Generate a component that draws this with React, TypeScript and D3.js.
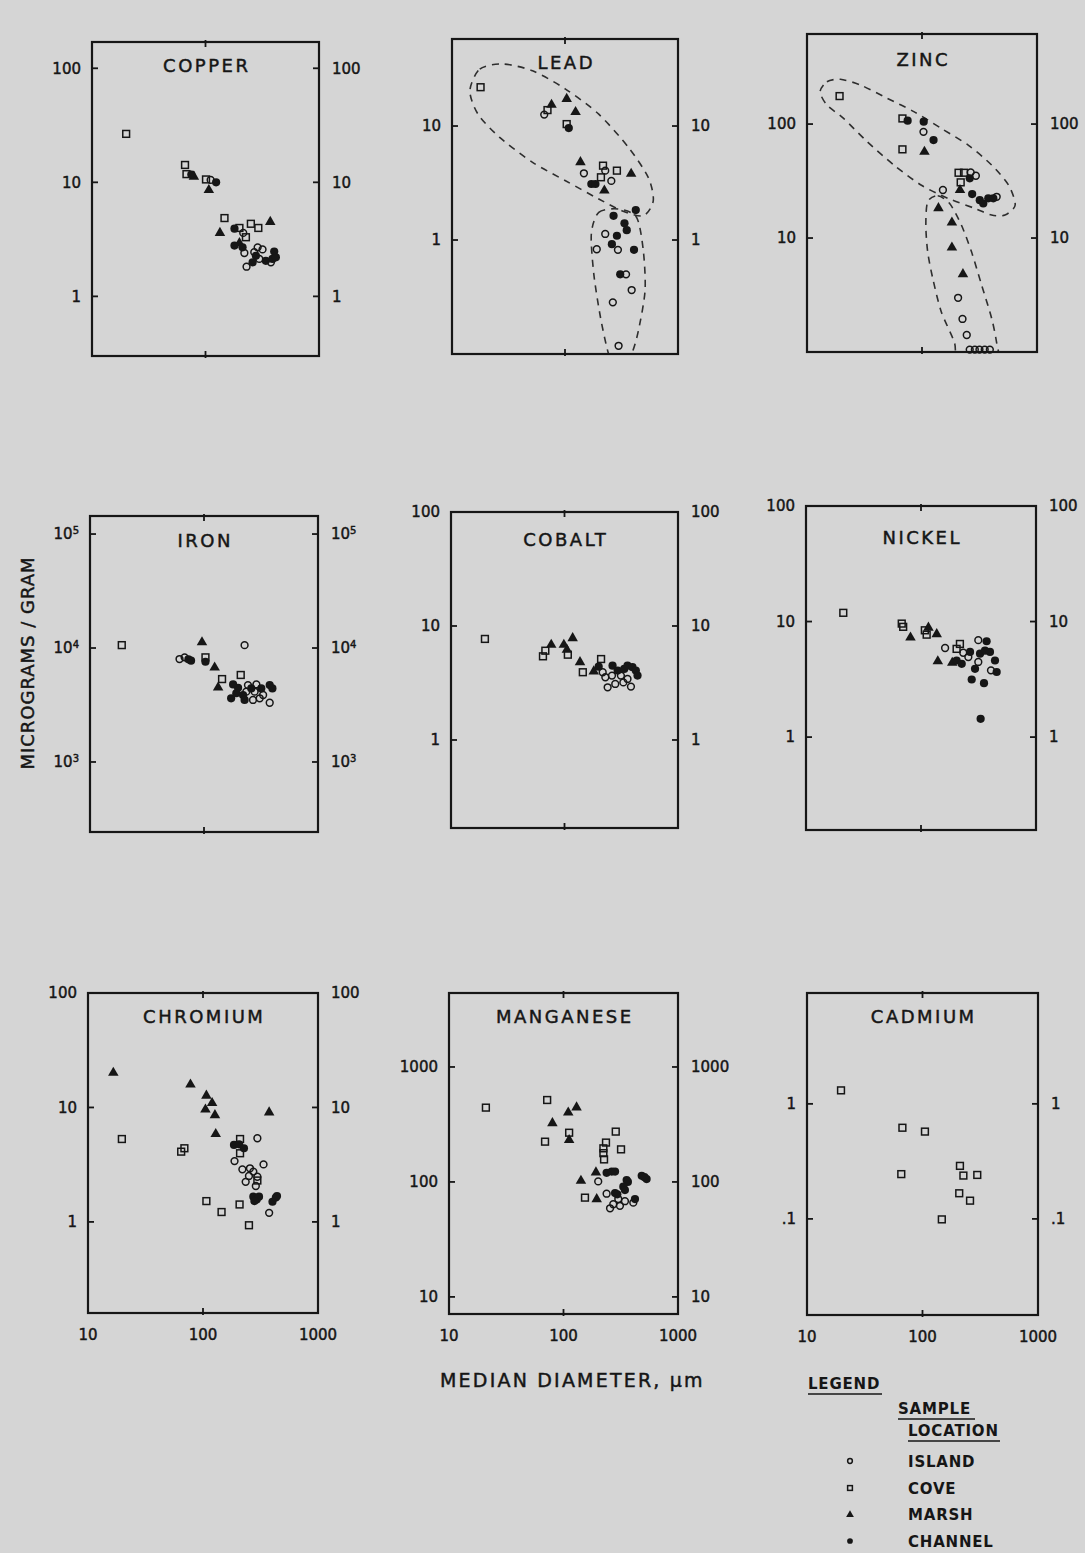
import React from "react";
import * as d3 from "d3";

type Pt = [number, number]; // [median diameter µm, µg/g]

// ---------------- DATA ----------------
// COPPER
const copperIsland: Pt[] = [[111, 10.5], [215, 3.6], [220, 2.4], [230, 1.82], [288, 2.69], [318, 2.58], [298, 2.13], [377, 1.99], [269, 2.44]];
const copperCove: Pt[] = [[20, 26.6], [66, 14.2], [68, 11.8], [101, 10.6], [147, 4.86], [251, 4.33], [292, 3.98], [199, 3.98], [227, 3.3]];
const copperMarsh: Pt[] = [[79, 11.4], [107, 8.7], [134, 3.66], [372, 4.57], [199, 2.98]];
const copperChannel: Pt[] = [[75, 11.7], [124, 10.0], [180, 3.92], [180, 2.79], [212, 2.69], [278, 2.27], [260, 1.99], [340, 2.05], [389, 2.13], [403, 2.47], [417, 2.2]];

// LEAD
const leadIsland: Pt[] = [[65.5, 12.6], [147, 3.85], [227, 4.06], [257, 3.3], [227, 1.13], [294, 0.82], [191, 0.83], [347, 0.5], [389, 0.364], [265, 0.284], [298, 0.118]];
const leadCove: Pt[] = [[17.9, 21.9], [70, 13.8], [103.5, 10.4], [217, 4.49], [288, 4.06], [208, 3.55]];
const leadMarsh: Pt[] = [[76, 15.6], [103.5, 17.6], [124, 13.5], [137, 4.9], [385, 3.87], [223, 2.76]];
const leadChannel: Pt[] = [[108, 9.6], [171, 3.1], [186, 3.1], [269, 1.63], [423, 1.83], [336, 1.4], [352, 1.22], [288, 1.09], [260, 0.92], [408, 0.82], [308, 0.5]];

// ZINC
const zincIsland: Pt[] = [[103, 85.5], [265, 37.7], [294, 35.2], [152, 26.4], [446, 23], [206, 2.99], [225, 1.95], [245, 1.41], [260, 1.05], [288, 1.05], [316, 1.05], [351, 1.05], [389, 1.05]];
const zincCove: Pt[] = [[19.2, 176], [67.6, 112], [67.6, 60], [208, 37.4], [232, 37.4], [217, 30.8]];
const zincMarsh: Pt[] = [[105, 58], [214, 26.8], [139, 18.6], [182, 13.9], [182, 8.4], [227, 4.9]];
const zincChannel: Pt[] = [[75, 107], [103.5, 105], [126, 72.4], [260, 33.4], [273, 24.3], [318, 21.5], [341, 20.1], [377, 22.3], [417, 22.3]];

// IRON
const ironIsland: Pt[] = [[61, 8000], [67.6, 8280], [227, 10600], [243, 4730], [288, 4790], [235, 4140], [269, 3500], [278, 4140], [330, 3870], [377, 3310], [308, 3620]];
const ironCove: Pt[] = [[19, 10600], [103, 8280], [144, 5340], [210, 5800]];
const ironMarsh: Pt[] = [[96, 11400], [124, 6850], [133, 4570]];
const ironChannel: Pt[] = [[73, 7950], [77, 7740], [103, 7580], [180, 4790], [199, 4480], [173, 3620], [192, 4010], [220, 3870], [227, 3500], [318, 4420], [377, 4730], [398, 4420], [260, 4420]];

// COBALT
const cobaltIsland: Pt[] = [[217, 3.93], [229, 3.55], [240, 2.9], [262, 3.67], [280, 3.1], [314, 3.67], [359, 3.43], [385, 2.94], [330, 3.2]];
const cobaltCove: Pt[] = [[19.9, 7.7], [64.6, 5.42], [67.8, 6.07], [107, 5.6], [145, 3.93], [210, 5.13]];
const cobaltMarsh: Pt[] = [[76.4, 6.95], [98.7, 6.95], [105, 6.28], [118, 7.95], [137, 4.9], [181, 4.06]];
const cobaltChannel: Pt[] = [[200, 4.4], [265, 4.49], [294, 4.06], [336, 4.2], [359, 4.49], [397, 4.35], [425, 4.06], [440, 3.67]];

// NICKEL
const nickelIsland: Pt[] = [[162, 5.9], [233, 5.37], [258, 4.93], [315, 6.9], [315, 4.47], [406, 3.78]];
const nickelCove: Pt[] = [[21.1, 11.9], [68, 9.6], [70, 9.0], [108, 8.4], [112, 7.7], [204, 5.8], [218, 6.4]];
const nickelMarsh: Pt[] = [[81, 7.4], [116, 9], [137, 7.9], [140, 4.6], [187, 4.47]];
const nickelChannel: Pt[] = [[204, 4.6], [226, 4.31], [267, 5.46], [372, 6.75], [295, 3.9], [276, 3.15], [353, 2.93], [326, 5.27], [360, 5.6], [398, 5.46], [440, 4.6], [455, 3.66], [330, 1.44]];

// CHROMIUM
const chromiumIsland: Pt[] = [[188, 3.4], [297, 5.38], [336, 3.18], [220, 2.88], [256, 2.94], [274, 2.75], [251, 2.52], [297, 2.48], [235, 2.24], [288, 2.06], [376, 1.2]];
const chromiumCove: Pt[] = [[19.7, 5.3], [64.6, 4.11], [68.9, 4.4], [107, 1.52], [145, 1.22], [208, 1.42], [251, 0.935], [210, 5.3], [210, 3.98], [297, 2.3]];
const chromiumMarsh: Pt[] = [[16.6, 20.4], [77.8, 16.1], [107, 12.9], [105, 9.75], [120, 11.1], [127, 8.7], [129, 5.96], [376, 9.2]];
const chromiumChannel: Pt[] = [[186, 4.71], [206, 4.76], [227, 4.4], [274, 1.66], [293, 1.57], [307, 1.66], [280, 1.52], [402, 1.5], [430, 1.63], [440, 1.68]];

// MANGANESE
const manganeseIsland: Pt[] = [[201, 101], [238, 79], [255, 59], [272, 64], [311, 62], [301, 71], [344, 68], [407, 66]];
const manganeseCove: Pt[] = [[21, 443], [72, 516], [69, 224], [112, 268], [286, 274], [235, 220], [223, 196], [223, 178], [226, 157], [318, 192], [154, 73]];
const manganeseMarsh: Pt[] = [[80, 330], [110, 408], [130, 452], [112, 235], [192, 123], [142, 104], [195, 72]];
const manganeseChannel: Pt[] = [[238, 120], [264, 123], [282, 123], [356, 104], [365, 100], [333, 91], [344, 85], [282, 80], [295, 78], [421, 71], [482, 113], [532, 106], [510, 110]];

// CADMIUM
const cadmiumIsland: Pt[] = [];
const cadmiumCove: Pt[] = [[19.7, 1.31], [67, 0.62], [105, 0.574], [65.5, 0.245], [211, 0.289], [226, 0.238], [298, 0.241], [208, 0.167], [258, 0.144], [147, 0.099]];
const cadmiumMarsh: Pt[] = [];
const cadmiumChannel: Pt[] = [];

// dashed envelopes (data units)
const leadUpperEnvelope: Pt[] = [[14.4, 20.4], [17.6, 31.6], [28.2, 35], [51.6, 30.5], [101, 21.1], [199, 12.7], [364, 6.5], [545, 3.55], [604, 2.21], [493, 1.63], [318, 1.81], [199, 2.29], [101, 3.31], [51.6, 4.8], [26.4, 7.95], [17, 12.7]];
const leadLowerEnvelope: Pt[] = [[171, 1.13], [199, 1.75], [298, 1.87], [430, 1.58], [493, 0.81], [511, 0.36], [446, 0.16], [389, 0.1], [300, 0.06], [243, 0.1], [206, 0.21], [180, 0.5]];
const zincUpperEnvelope: Pt[] = [[13, 192], [14.9, 235], [19.5, 247], [29.2, 220], [50, 168], [85.7, 128], [147, 91.6], [252, 65.4], [403, 43.7], [565, 29.2], [646, 19.5], [527, 15.9], [403, 15.9], [288, 18.2], [168, 22.3], [98, 29.2], [57, 43.7], [33.4, 70], [20.8, 112], [14.9, 147]];
const zincLowerEnvelope: Pt[] = [[112, 20.8], [137, 23.5], [174, 20.1], [220, 13], [269, 7.6], [330, 3.87], [403, 1.98], [446, 1.2], [461, 0.8], [300, 0.6], [200, 0.8], [192, 1.2], [147, 2.26], [124, 4.43], [112, 7.6], [108, 13]];

const xDomain: [number, number] = [10, 1000];
const xTickValues = [10, 100, 1000];
const xTickLabels = ["10", "100", "1000"];

const legendLabels = ["ISLAND", "COVE", "MARSH", "CHANNEL"];
const locKeys = ["island", "cove", "marsh", "channel"] as const;

// ---------------- LAYOUT ----------------
interface Label { v: number; t: string; sup?: string }
interface Panel {
  title: string;
  left: number; top: number; width: number; height: number;
  yDomain: [number, number];
  labels: Label[];
  titleDy: number;
  xLabels: boolean;
  series: Record<(typeof locKeys)[number], Pt[]>;
  envelopes: Pt[][];
}

const panels: Panel[] = [
  { title: "COPPER", left: 92, top: 42, width: 227, height: 314, yDomain: [0.3, 170], titleDy: 30, xLabels: false,
    labels: [{ v: 1, t: "1" }, { v: 10, t: "10" }, { v: 100, t: "100" }],
    series: { island: copperIsland, cove: copperCove, marsh: copperMarsh, channel: copperChannel }, envelopes: [] },
  { title: "LEAD", left: 452, top: 39, width: 226, height: 315, yDomain: [0.1, 58], titleDy: 30, xLabels: false,
    labels: [{ v: 1, t: "1" }, { v: 10, t: "10" }],
    series: { island: leadIsland, cove: leadCove, marsh: leadMarsh, channel: leadChannel }, envelopes: [leadUpperEnvelope, leadLowerEnvelope] },
  { title: "ZINC", left: 807, top: 34, width: 230, height: 318, yDomain: [1, 617], titleDy: 32, xLabels: false,
    labels: [{ v: 10, t: "10" }, { v: 100, t: "100" }],
    series: { island: zincIsland, cove: zincCove, marsh: zincMarsh, channel: zincChannel }, envelopes: [zincUpperEnvelope, zincLowerEnvelope] },
  { title: "IRON", left: 90, top: 516, width: 228, height: 316, yDomain: [243, 144000], titleDy: 31, xLabels: false,
    labels: [{ v: 1000, t: "10", sup: "3" }, { v: 10000, t: "10", sup: "4" }, { v: 100000, t: "10", sup: "5" }],
    series: { island: ironIsland, cove: ironCove, marsh: ironMarsh, channel: ironChannel }, envelopes: [] },
  { title: "COBALT", left: 451, top: 512, width: 227, height: 316, yDomain: [0.169, 100], titleDy: 34, xLabels: false,
    labels: [{ v: 1, t: "1" }, { v: 10, t: "10" }, { v: 100, t: "100" }],
    series: { island: cobaltIsland, cove: cobaltCove, marsh: cobaltMarsh, channel: cobaltChannel }, envelopes: [] },
  { title: "NICKEL", left: 806, top: 506, width: 230, height: 324, yDomain: [0.157, 100], titleDy: 38, xLabels: false,
    labels: [{ v: 1, t: "1" }, { v: 10, t: "10" }, { v: 100, t: "100" }],
    series: { island: nickelIsland, cove: nickelCove, marsh: nickelMarsh, channel: nickelChannel }, envelopes: [] },
  { title: "CHROMIUM", left: 88, top: 993, width: 230, height: 320, yDomain: [0.16, 100], titleDy: 30, xLabels: true,
    labels: [{ v: 1, t: "1" }, { v: 10, t: "10" }, { v: 100, t: "100" }],
    series: { island: chromiumIsland, cove: chromiumCove, marsh: chromiumMarsh, channel: chromiumChannel }, envelopes: [] },
  { title: "MANGANESE", left: 449, top: 993, width: 229, height: 321, yDomain: [7.1, 4400], titleDy: 30, xLabels: true,
    labels: [{ v: 10, t: "10" }, { v: 100, t: "100" }, { v: 1000, t: "1000" }],
    series: { island: manganeseIsland, cove: manganeseCove, marsh: manganeseMarsh, channel: manganeseChannel }, envelopes: [] },
  { title: "CADMIUM", left: 807, top: 993, width: 231, height: 322, yDomain: [0.0146, 9.2], titleDy: 30, xLabels: true,
    labels: [{ v: 0.1, t: ".1" }, { v: 1, t: "1" }],
    series: { island: cadmiumIsland, cove: cadmiumCove, marsh: cadmiumMarsh, channel: cadmiumChannel }, envelopes: [] },
];

const BG = "#d5d5d5";
const INK = "#161616";
const FONT = "'DejaVu Sans', 'Liberation Sans', sans-serif";
const TXT_STROKE = 0.45;

const triPath = d3.symbol().type(d3.symbolTriangle).size(48)() as string;
const triPathSmall = d3.symbol().type(d3.symbolTriangle).size(26)() as string;

function Marker({ kind, x, y, small }: { kind: string; x: number; y: number; small?: boolean }) {
  const k = small ? 0.7 : 1;
  if (kind === "island")
    return <circle cx={x} cy={y} r={3.4 * k} fill="none" stroke={INK} strokeWidth={1.5} />;
  if (kind === "cove")
    return <rect x={x - 3.4 * k} y={y - 3.4 * k} width={6.8 * k} height={6.8 * k} fill="none" stroke={INK} strokeWidth={1.5} />;
  if (kind === "marsh")
    return <path d={small ? triPathSmall : triPath} transform={`translate(${x},${y + 0.8})`} fill={INK} />;
  return <circle cx={x} cy={y} r={4.1 * k} fill={INK} />;
}

function PanelView({ p, idx }: { p: Panel; idx: number }) {
  const x = d3.scaleLog().domain(xDomain).range([p.left, p.left + p.width]);
  const y = d3.scaleLog().domain(p.yDomain).range([p.top + p.height, p.top]);
  const right = p.left + p.width;
  const bottom = p.top + p.height;
  const env = d3.line<Pt>().x((d) => x(d[0])).y((d) => y(d[1])).curve(d3.curveCardinalClosed.tension(0.2));
  const clipId = `clip-${idx}`;
  const textProps = { fontSize: 15, fill: INK, stroke: INK, strokeWidth: TXT_STROKE, fontFamily: FONT };
  return (
    <g>
      <defs>
        <clipPath id={clipId}>
          <rect x={p.left} y={p.top} width={p.width} height={p.height} />
        </clipPath>
      </defs>
      <g clipPath={`url(#${clipId})`}>
        {p.envelopes.map((e, i) => (
          <path key={i} d={env(e) as string} fill="none" stroke="#2e2e2e" strokeWidth={1.6} strokeDasharray="7 6" />
        ))}
      </g>
      <rect x={p.left} y={p.top} width={p.width} height={p.height} fill="none" stroke={INK} strokeWidth={2.2} />
      <line x1={x(100)} x2={x(100)} y1={p.top - 2} y2={p.top + 5} stroke={INK} strokeWidth={1.8} />
      <line x1={x(100)} x2={x(100)} y1={bottom + 2} y2={bottom - 5} stroke={INK} strokeWidth={1.8} />
      {p.labels.map((l, i) => (
        <g key={i}>
          <line x1={p.left} x2={p.left + 6} y1={y(l.v)} y2={y(l.v)} stroke={INK} strokeWidth={1.8} />
          <line x1={right} x2={right - 6} y1={y(l.v)} y2={y(l.v)} stroke={INK} strokeWidth={1.8} />
          <text x={p.left - 11} y={y(l.v)} dy="0.36em" textAnchor="end" {...textProps}>
            {l.t}
            {l.sup && <tspan dy="-0.5em" fontSize={10}>{l.sup}</tspan>}
          </text>
          <text x={right + 13} y={y(l.v)} dy="0.36em" textAnchor="start" {...textProps}>
            {l.t}
            {l.sup && <tspan dy="-0.5em" fontSize={10}>{l.sup}</tspan>}
          </text>
        </g>
      ))}
      <text x={p.left + p.width / 2 + 1.25} y={p.top + p.titleDy} textAnchor="middle" {...textProps} fontSize={18} letterSpacing={2.5}>
        {p.title}
      </text>
      {locKeys.map((k) =>
        p.series[k].map((d, i) => <Marker key={k + i} kind={k} x={x(d[0])} y={y(d[1])} />)
      )}
      {p.xLabels &&
        xTickValues.map((v, i) => (
          <text key={i} x={x(v)} y={bottom + 27} textAnchor="middle" {...textProps}>
            {xTickLabels[i]}
          </text>
        ))}
    </g>
  );
}

export default function App() {
  const legendY = [1461, 1488, 1514, 1541];
  return (
    <svg width={1085} height={1553} style={{ position: "absolute", left: 0, top: 0 }} xmlns="http://www.w3.org/2000/svg">
      <rect x={0} y={0} width={1085} height={1553} fill={BG} />
      {panels.map((p, i) => (
        <PanelView key={p.title} p={p} idx={i} />
      ))}
      <text transform="translate(34,663) rotate(-90)" textAnchor="middle" fontSize={18} letterSpacing={1} fill={INK} stroke={INK} strokeWidth={TXT_STROKE} fontFamily={FONT}>
        MICROGRAMS / GRAM
      </text>
      <text x={440} y={1387} fontSize={19} letterSpacing={2.2} fill={INK} stroke={INK} strokeWidth={TXT_STROKE} fontFamily={FONT}>
        MEDIAN DIAMETER, µm
      </text>
      <g fontFamily={FONT} fill={INK} fontWeight="bold" fontSize={15}>
        <text x={808} y={1389} letterSpacing={0.8}>LEGEND</text>
        <line x1={808} x2={882} y1={1394} y2={1394} stroke={INK} strokeWidth={1.6} />
        <text x={898} y={1414} letterSpacing={0.8}>SAMPLE</text>
        <line x1={898} x2={975} y1={1419} y2={1419} stroke={INK} strokeWidth={1.6} />
        <text x={908} y={1436} letterSpacing={0.8}>LOCATION</text>
        <line x1={908} x2={1000} y1={1441} y2={1441} stroke={INK} strokeWidth={1.6} />
        {legendLabels.map((l, i) => (
          <g key={l}>
            <Marker kind={locKeys[i]} x={850} y={legendY[i]} small />
            <text x={908} y={legendY[i] + 6} letterSpacing={0.8}>{l}</text>
          </g>
        ))}
      </g>
    </svg>
  );
}
